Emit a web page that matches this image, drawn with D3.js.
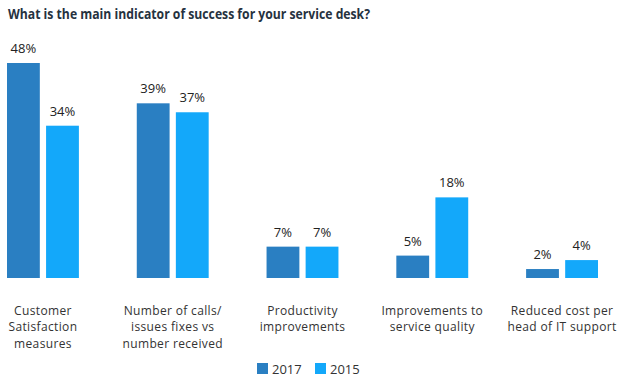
<!DOCTYPE html>
<html>
<head>
<meta charset="utf-8">
<script src="https://cdn.jsdelivr.net/npm/d3@7"></script>
<style>
  body { margin: 0; background: #fff; }
  text { font-family: "Open Sans", sans-serif; }
</style>
</head>
<body>
<div id="chart"></div>
<script>
// Data
var categories = [
  ["Customer", "Satisfaction", "measures"],
  ["Number of calls/", "issues fixes vs", "number received"],
  ["Productivity", "improvements"],
  ["Improvements to", "service quality"],
  ["Reduced cost per", "head of IT support"]
];
var years = ["2017", "2015"];
var values2017 = [48, 39, 7, 5, 2];
var values2015 = [34, 37, 7, 18, 4];

var width = 635, height = 386;
var colors = { "2017": "#2a7fc2", "2015": "#13a8fa" };

var svg = d3.select("#chart").append("svg")
    .attr("width", width)
    .attr("height", height);

// Title
svg.append("text")
    .attr("x", 8)
    .attr("y", 19)
    .attr("font-size", 15)
    .attr("font-weight", "bold")
    .attr("fill", "#26323f")
    .attr("textLength", 362)
    .attr("lengthAdjust", "spacingAndGlyphs")
    .text("What is the main indicator of success for your service desk?");

// Scales
var x0 = d3.scaleBand()
    .domain(d3.range(categories.length))
    .range([7, 598])
    .paddingInner(0.446)
    .paddingOuter(0);

var x1 = d3.scaleBand()
    .domain(years)
    .range([0, x0.bandwidth()])
    .paddingInner(0.16);

var y = d3.scaleLinear()
    .domain([0, 48])
    .range([278, 63]);

var rows = categories.map(function(c, i) {
  return { i: i, label: c, vals: [
    { year: "2017", v: values2017[i] },
    { year: "2015", v: values2015[i] }
  ]};
});

var groups = svg.selectAll("g.group").data(rows).enter()
    .append("g")
    .attr("class", "group")
    .attr("transform", function(d) { return "translate(" + x0(d.i) + ",0)"; });

groups.selectAll("rect").data(function(d) { return d.vals; }).enter()
    .append("rect")
    .attr("x", function(d) { return x1(d.year); })
    .attr("y", function(d) { return y(d.v); })
    .attr("width", x1.bandwidth())
    .attr("height", function(d) { return y(0) - y(d.v); })
    .attr("fill", function(d) { return colors[d.year]; });

// value labels
groups.selectAll("text.val").data(function(d) { return d.vals; }).enter()
    .append("text")
    .attr("class", "val")
    .attr("x", function(d) { return x1(d.year) + x1.bandwidth() / 2; })
    .attr("y", function(d) { return y(d.v) - 10; })
    .attr("text-anchor", "middle")
    .attr("font-size", 13)
    .attr("fill", "#222")
    .text(function(d) { return d.v + "%"; });

// category labels, one text per line
groups.selectAll("text.cat").data(function(d) { return d.label; }).enter()
    .append("text")
    .attr("class", "cat")
    .attr("x", x0.bandwidth() / 2)
    .attr("y", function(d, i) { return 315 + i * 16.4; })
    .attr("text-anchor", "middle")
    .attr("font-size", 12)
    .attr("letter-spacing", 0.35)
    .attr("fill", "#333")
    .text(function(d) { return d; });

// Legend
var legend = svg.append("g").attr("class", "legend");
var legendX = [257, 315];
years.forEach(function(yr, i) {
  legend.append("rect")
      .attr("x", legendX[i])
      .attr("y", 363)
      .attr("width", 11)
      .attr("height", 11)
      .attr("fill", colors[yr]);
  legend.append("text")
      .attr("x", legendX[i] + 15)
      .attr("y", 374)
      .attr("font-size", 13)
      .attr("fill", "#333")
      .text(yr);
});
</script>
</body>
</html>
